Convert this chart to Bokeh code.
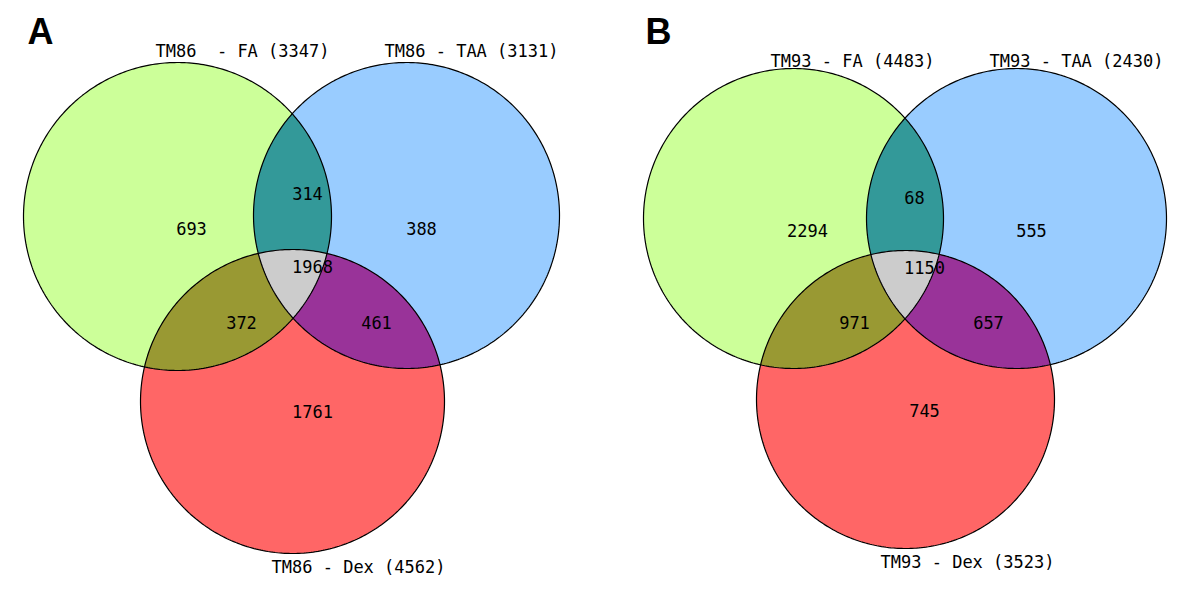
import numpy as np
from bokeh.plotting import figure
from bokeh.models import ColumnDataSource
from bokeh.core.properties import value
from bokeh.embed import file_html
from bokeh.resources import INLINE

# ---------------- data ----------------
panel_letters = ["A", "B"]
set_names_A = ["TM86\u00a0 - FA", "TM86 - TAA", "TM86 - Dex"]
set_totals_A = [3347, 3131, 4562]
set_names_B = ["TM93 - FA", "TM93 - TAA", "TM93 - Dex"]
set_totals_B = [4483, 2430, 3523]
# region counts: FA only, FA&TAA, TAA only, all three, FA&Dex, TAA&Dex, Dex only
region_keys = ["FA", "FA_TAA", "TAA", "ALL", "FA_Dex", "TAA_Dex", "Dex"]
region_counts_A = [693, 314, 388, 1968, 372, 461, 1761]
region_counts_B = [2294, 68, 555, 1150, 971, 657, 745]

# ---------------- layout / style ----------------
W, H = 1184, 582
FILL_SET = ["#CCFF99", "#99CCFF", "#FF6666"]
FILL_PAIR = {"FA_TAA": "#339999", "FA_Dex": "#999933", "TAA_Dex": "#993399"}
FILL_ALL = "#CCCCCC"
MONO = value("DejaVu Sans Mono")
FS = "17px"

panels = [
    dict(letter=(27, 31),
         circles=[(177, 216, 154), (406, 215, 153), (292, 401, 152)],
         label_pos=[(242, 50), (471, 50), (358, 566)],
         names=set_names_A, totals=set_totals_A, counts=region_counts_A,
         count_pos=[(191, 228), (307, 193), (421, 228), (312, 266),
                    (241, 322), (376, 322), (312, 411)]),
    dict(letter=(645, 31),
         circles=[(793, 218, 150), (1016, 218, 150), (905, 399, 149)],
         label_pos=[(852, 60), (1076, 60), (967, 561)],
         names=set_names_B, totals=set_totals_B, counts=region_counts_B,
         count_pos=[(807, 230), (914, 197), (1031, 230), (924, 267),
                    (854, 322), (988, 322), (924, 410)]),
]

p = figure(width=W, height=H, x_range=(0, W), y_range=(H, 0),
           output_backend="svg", toolbar_location=None, min_border=0)
p.axis.visible = False
p.grid.visible = False
p.outline_line_color = None
p.background_fill_color = "white"
p.border_fill_color = "white"


def inside(px, py, c):
    return (px - c[0]) ** 2 + (py - c[1]) ** 2 <= c[2] ** 2 + 1e-6


def intersection_poly(circs, n=2000):
    xs, ys = [], []
    t = np.linspace(0, 2 * np.pi, n, endpoint=False)
    for i, c in enumerate(circs):
        px = c[0] + c[2] * np.cos(t)
        py = c[1] + c[2] * np.sin(t)
        m = np.ones(n, dtype=bool)
        for j, o in enumerate(circs):
            if j != i:
                m &= inside(px, py, o)
        xs.append(px[m]); ys.append(py[m])
    xs = np.concatenate(xs); ys = np.concatenate(ys)
    cx, cy = xs.mean(), ys.mean()
    order = np.argsort(np.arctan2(ys - cy, xs - cx))
    return list(xs[order]), list(ys[order])


for pan in panels:
    C = pan["circles"]
    t = np.linspace(0, 2 * np.pi, 400)
    for c, col in zip(C, FILL_SET):
        p.patch(c[0] + c[2] * np.cos(t), c[1] + c[2] * np.sin(t),
                fill_color=col, line_color=None)
    for key, (a, b) in zip(["FA_TAA", "FA_Dex", "TAA_Dex"], [(0, 1), (0, 2), (1, 2)]):
        xs, ys = intersection_poly([C[a], C[b]])
        p.patch(xs, ys, fill_color=FILL_PAIR[key], line_color=None)
    xs, ys = intersection_poly(C)
    p.patch(xs, ys, fill_color=FILL_ALL, line_color=None)
    for c in C:
        p.line(c[0] + c[2] * np.cos(t), c[1] + c[2] * np.sin(t),
               line_color="black", line_width=1.2)
    src = ColumnDataSource(dict(
        x=[q[0] for q in pan["label_pos"]], y=[q[1] for q in pan["label_pos"]],
        t=[f"{n} ({v})" for n, v in zip(pan["names"], pan["totals"])]))
    p.text("x", "y", text="t", source=src, text_font=MONO, text_font_size=FS,
           text_align="center", text_baseline="middle", text_color="black")
    src2 = ColumnDataSource(dict(
        x=[q[0] for q in pan["count_pos"]], y=[q[1] for q in pan["count_pos"]],
        t=[str(v) for v in pan["counts"]]))
    p.text("x", "y", text="t", source=src2, text_font=MONO, text_font_size=FS,
           text_align="center", text_baseline="middle", text_color="black")

letters = ColumnDataSource(dict(x=[pn["letter"][0] for pn in panels],
                                y=[pn["letter"][1] for pn in panels],
                                t=panel_letters))
p.text("x", "y", text="t", source=letters, text_font=value("Liberation Sans"),
       text_font_style="bold", text_font_size="36px", text_align="left",
       text_baseline="middle", text_color="black")

open("out.html", "w").write(file_html(p, INLINE))
